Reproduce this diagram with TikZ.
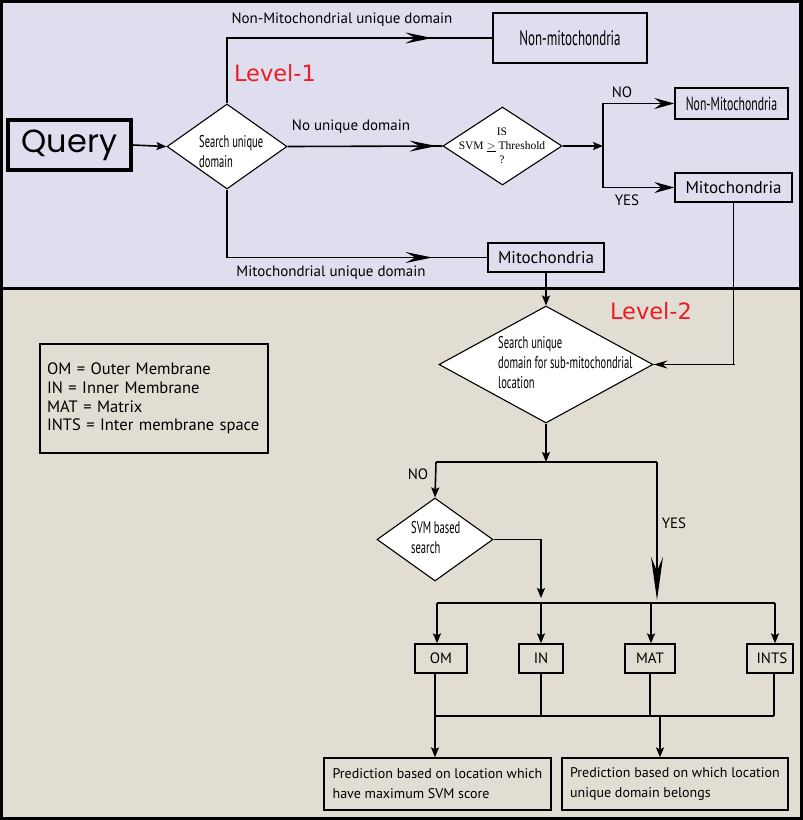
\documentclass[tikz,border=0pt]{standalone}
\usepackage{fontspec}
\setmainfont{PT Sans}
\newfontfamily\condf[FakeStretch=0.62]{PT Sans}
\newfontfamily\levelf{DejaVu Sans}
\newfontfamily\comicf{Poppins}
\newfontfamily\serf{Liberation Serif}
\usetikzlibrary{shapes.geometric,arrows.meta,decorations.markings}
\definecolor{lav}{RGB}{223,222,238}
\definecolor{beige}{RGB}{226,221,210}
\definecolor{lvlred}{RGB}{237,28,36}
\begin{document}
\begin{tikzpicture}[x=1pt,y=-1pt,
  box/.style={draw, line width=1.3pt, inner sep=0pt},
  dia/.style={diamond, draw, fill=white, line width=1.1pt, inner sep=0pt},
  conn/.style={line width=1.6pt},
  arr/.style={conn, -{Stealth[length=10pt,width=8pt,inset=2pt]}},
  longtip/.style={conn, -{Stealth[length=20pt,width=11pt,inset=7pt]}},
  midarr/.style={conn, postaction={decorate}, decoration={markings,
     mark=at position #1 with {\arrow{Stealth[length=27pt,width=11pt,inset=10pt]}}}},
  lbl/.style={font=\fontsize{15}{18}\selectfont, inner sep=0pt},
  cond/.style={font=\condf\fontsize{17}{20}\selectfont, inner sep=0pt, align=left}
]
\useasboundingbox (0,0) rectangle (803,820);
\fill[black] (0,0) rectangle (803,820);
\fill[lav] (3,3) rectangle (799,287);
\fill[beige] (3,290) rectangle (800,817);

% ---------- Level 1 ----------
\node[box, line width=3.5pt, minimum width=123pt, minimum height=50pt,
      font=\comicf\fontsize{32}{36}\selectfont] (query) at (69.5,145) {Query};
\node[dia, minimum width=120pt, minimum height=85pt] (d1) at (227,146.5) {};
\node[cond, anchor=west] (d1t) at (199,152) {Search unique\\domain};

\node[box, minimum width=154pt, minimum height=50pt,
      font=\condf\fontsize{21}{24}\selectfont] (nonmito) at (570,38) {Non-mitochondria};
\node[dia, minimum width=119pt, minimum height=78pt] (svm) at (502.5,146) {};
\node[font=\serf\fontsize{11.5}{14}\selectfont, align=center, inner sep=0pt] (svmt) at (502,146) {IS\\SVM $\underline{>}$ Threshold\\?};

\node[box, minimum width=113pt, minimum height=31pt,
      font=\condf\fontsize{19}{22}\selectfont] (nonmito2) at (731.5,103.5) {Non-Mitochondria};
\node[box, minimum width=117pt, minimum height=29pt,
      font=\fontsize{17}{20}\selectfont] (mito2) at (733.5,187.5) {Mitochondria};
\node[box, minimum width=116pt, minimum height=29pt,
      font=\fontsize{17}{20}\selectfont] (mito1) at (546,257.5) {Mitochondria};

\node[text=lvlred, font=\levelf\fontsize{22.5}{26}\selectfont, inner sep=0pt] (lv1) at (275,73) {Level-1};
\node[lbl] (l1) at (342,20) {Non-Mitochondrial unique domain};
\node[lbl] (l2) at (351,127) {No unique domain};
\node[lbl] (l3) at (331,273) {Mitochondrial unique domain};
\node[lbl] (l4) at (622,92) {NO};
\node[lbl] (l5) at (627,200) {YES};

\coordinate (j1) at (603,146);

\draw[arr] (query.east) -- (d1.west);
\draw[midarr=-60pt] (d1.north) |- (nonmito.west);
\draw[midarr=-6pt] (d1.east) -- (svm.west);
\draw[midarr=-55pt] (d1.south) |- (mito1.west);
\draw[arr] (svm.east) -- (j1);
\draw[longtip] (j1) |- (nonmito2.west);
\draw[longtip] (j1) |- (mito2.west);

% ---------- Level 2 ----------
\node[text=lvlred, font=\levelf\fontsize{22.5}{26}\selectfont, inner sep=0pt] (lv2) at (651,311) {Level-2};
\node[dia, minimum width=214pt, minimum height=117pt] (d2) at (546,364.5) {};
\node[cond, anchor=west] (d2t) at (498,363) {Search unique\\domain for sub-mitochondrial\\location};

\node[box, minimum width=228pt, minimum height=109pt, align=left,
      text width=214pt, font=\fontsize{16.5}{18.7}\selectfont] (legend) at (154,398.5)
  {OM = Outer Membrane\\IN = Inner Membrane\\MAT = Matrix\\INTS = Inter membrane space};

\coordinate (j2) at (546,462);
\coordinate (jl) at (436,462);
\coordinate (jr) at (657,462);
\node[dia, minimum width=116pt, minimum height=83pt] (d3) at (435,539.5) {};
\node[cond, anchor=west] (d3t) at (411,538) {SVM based\\search};
\node[lbl] (l6) at (418,474) {NO};
\node[lbl] (l7) at (674,523) {YES};

\node[box, minimum width=52pt, minimum height=29pt, font=\fontsize{15}{18}\selectfont] (om) at (441,658.5) {OM};
\node[box, minimum width=44pt, minimum height=29pt, font=\fontsize{15}{18}\selectfont] (in) at (541,658.5) {IN};
\node[box, minimum width=50pt, minimum height=29pt, font=\fontsize{15}{18}\selectfont] (mat) at (650,658.5) {MAT};
\node[box, minimum width=46pt, minimum height=29pt, font=\fontsize{15}{18}\selectfont] (ints) at (770,658.5) {\hspace*{4pt}INTS};

\coordinate (b1) at (437,603);
\coordinate (b2) at (541,603);
\coordinate (b3) at (651,603);
\coordinate (b4) at (775,603);
\coordinate (s2) at (541,598);
\coordinate (y2) at (657,600);
\coordinate (c1) at (435,716);
\coordinate (c4) at (774,716);
\coordinate (c5) at (660,716);

\node[box, minimum width=227pt, minimum height=52pt, align=left,
      font=\fontsize{14}{20}\selectfont] (p1) at (437.5,784)
  {Prediction based on location which\\have maximum SVM score};
\node[box, minimum width=226pt, minimum height=52pt, align=left,
      font=\fontsize{14}{20}\selectfont] (p2) at (675,784)
  {Prediction based on which location\\unique domain belongs};

\draw[arr] (mito1.south) -- (d2.north);
\draw[conn] (mito2.south) |- (d2.east);
\draw[conn, -{Stealth[length=14pt,width=8pt,inset=5pt]}] (735,364.5) -- (d2.east);
\draw[arr] (d2.south) -- (j2);
\draw[conn] (jl) -- (jr);
\draw[arr] (jl) -- (d3.north);
\draw[conn, -{Stealth[length=43pt,width=12pt,inset=14pt]}] (jr) -- (y2);
\draw[arr] (d3.east) -| (s2);
\draw[conn] (b1) -- (b4);
\draw[arr] (b1) -- (b1 |- om.north);
\draw[arr] (b2) -- (b2 |- in.north);
\draw[arr] (b3) -- (b3 |- mat.north);
\draw[arr] (b4) -- (b4 |- ints.north);
\draw[conn] (om.south -| c1) -- (c1);
\draw[conn] (in.south) -- (in.south |- c1);
\draw[conn] (mat.south) -- (mat.south |- c1);
\draw[conn] (ints.south -| c4) -- (c4);
\draw[conn] (c1) -- (c4);
\draw[arr] (c1) -- (c1 |- p1.north);
\draw[arr] (c5) -- (c5 |- p2.north);
\end{tikzpicture}
\end{document}
